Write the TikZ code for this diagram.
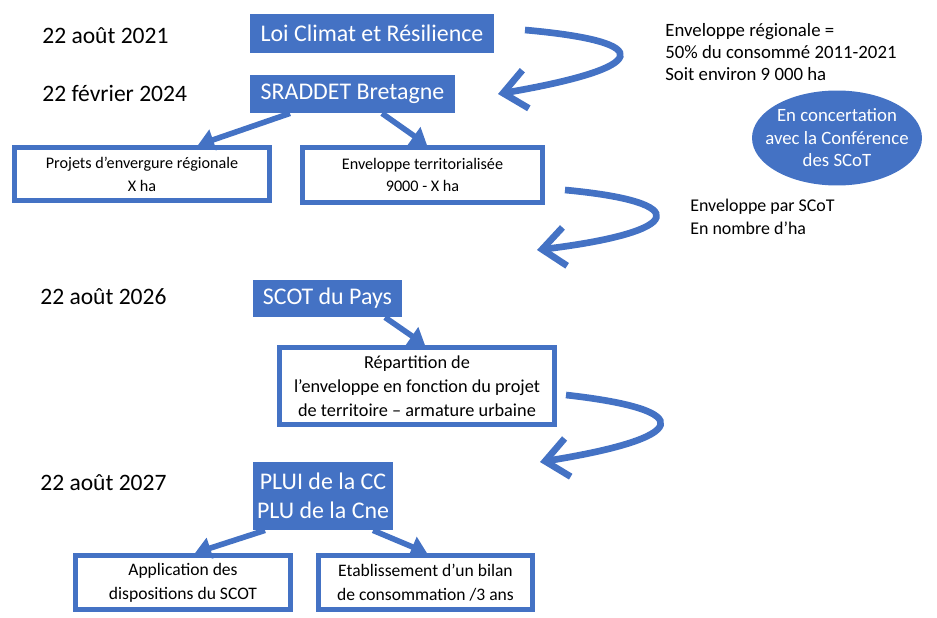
\documentclass[tikz,border=0pt]{standalone}
\usepackage{fontspec}
\setmainfont{Carlito}
\usetikzlibrary{arrows.meta,shapes.geometric}
\definecolor{ppblue}{HTML}{4472C4}

\begin{document}
\begin{tikzpicture}[x=0.02cm,y=-0.02cm,
        titre/.style={fill=ppblue,text=white,inner sep=0pt,align=center,font=\fontsize{13.6}{16.4}\selectfont},
        cadre/.style={draw=ppblue,line width=2.8pt,fill=white,inner sep=0pt,align=center,font=\fontsize{10}{13.5}\selectfont},
        date/.style={anchor=west,inner sep=0pt,font=\fontsize{13.4}{16}\selectfont},
        note/.style={anchor=west,inner sep=0pt,align=left,font=\fontsize{10.7}{12.6}\selectfont},
        fleche/.style={ppblue,line width=3.2pt,-{Triangle[length=9pt,width=12pt]}},
        courbe/.style={ppblue,line width=3.8pt,-{Straight Barb[length=13pt,width=22pt,line width=3.8pt]}}]
        \useasboundingbox (0,0) rectangle (937,618);

        \node[date] (d2021) at (42,36) {22 août 2021};
        \node[date] (d2024) at (42,93) {22 février 2024};
        \node[date] (d2026) at (40,297) {22 août 2026};
        \node[date] (d2027) at (40,483) {22 août 2027};

        \node[titre,minimum width=4.88cm,minimum height=0.78cm] (loi) at (372,33.5) {Loi Climat et Résilience};
        \node[titre,minimum width=4.1cm,minimum height=0.76cm] (sraddet) at (352.5,94) {SRADDET Bretagne};
        \node[titre,minimum width=2.98cm,minimum height=0.74cm] (scot) at (327.5,298.5) {SCOT du Pays};
        \node[titre,minimum width=2.8cm,minimum height=1.36cm] (plui) at (323,496) {PLUI de la CC\\PLU de la Cne};

        \node[cadre,minimum width=5.1cm,minimum height=1.06cm,font=\fontsize{9.2}{13}\selectfont] (projets) at (142,174) {Projets d’envergure régionale\\X ha};
        \node[cadre,minimum width=4.8cm,minimum height=1.1cm,font=\fontsize{9.2}{13}\selectfont] (envterr) at (422.5,175) {Enveloppe territorialisée\\9000 - X ha};
        \node[cadre,minimum width=5.5cm,minimum height=1.54cm,font=\fontsize{10.4}{13.6}\selectfont] (repart) at (417,386) {Répartition de\\l’enveloppe en fonction du projet\\de territoire -- armature urbaine};
        \node[cadre,minimum width=4.3cm,minimum height=1.08cm] (appli) at (183,582.5) {Application des\\dispositions du SCOT};
        \node[cadre,minimum width=4.28cm,minimum height=1.08cm] (bilan) at (425.5,582.5) {Etablissement d’un bilan\\de consommation /3 ans};

        \node[note] (envreg) at (665,52) {Enveloppe régionale =\\50\% du consommé 2011-2021\\Soit environ 9 000 ha};
        \node[note,font=\fontsize{10.2}{13}\selectfont] (envscot) at (690,216.5) {Enveloppe par SCoT\\En nombre d’ha};
        \node[ellipse,fill=ppblue,text=white,inner sep=-7pt,minimum width=3.4cm,minimum height=1.9cm,align=center,font=\fontsize{10.7}{12.8}\selectfont] (concert) at (837,138) {En concertation\\avec la Conférence\\des SCoT};

        \draw[fleche] ([xshift=-1.25cm]sraddet.south) -- ([xshift=1.12cm]projets.north);
        \draw[fleche] ([xshift=0.59cm]sraddet.south) -- ([xshift=0.09cm]envterr.north);
        \draw[fleche] ([xshift=1.15cm]scot.south) -- ([xshift=0.16cm]repart.north);
        \draw[fleche] ([xshift=-1.16cm]plui.south) -- ([xshift=0.24cm]appli.north);
        \draw[fleche] ([xshift=1.0cm]plui.south) -- ([xshift=0.03cm]bilan.north);

        \coordinate (c1a) at (525,30);
        \coordinate (c1b) at (498,94);
        \coordinate (c2a) at (565,190);
        \coordinate (c2b) at (537,250);
        \coordinate (c3a) at (566,395);
        \coordinate (c3b) at (540,462);

        \draw[courbe] (c1a) .. controls (660,42) and (650,68) .. (c1b);
        \draw[courbe] (c2a) .. controls (695,202) and (685,232) .. (c2b);
        \draw[courbe] (c3a) .. controls (700,410) and (690,438) .. (c3b);
    \end{tikzpicture}
\end{document}
